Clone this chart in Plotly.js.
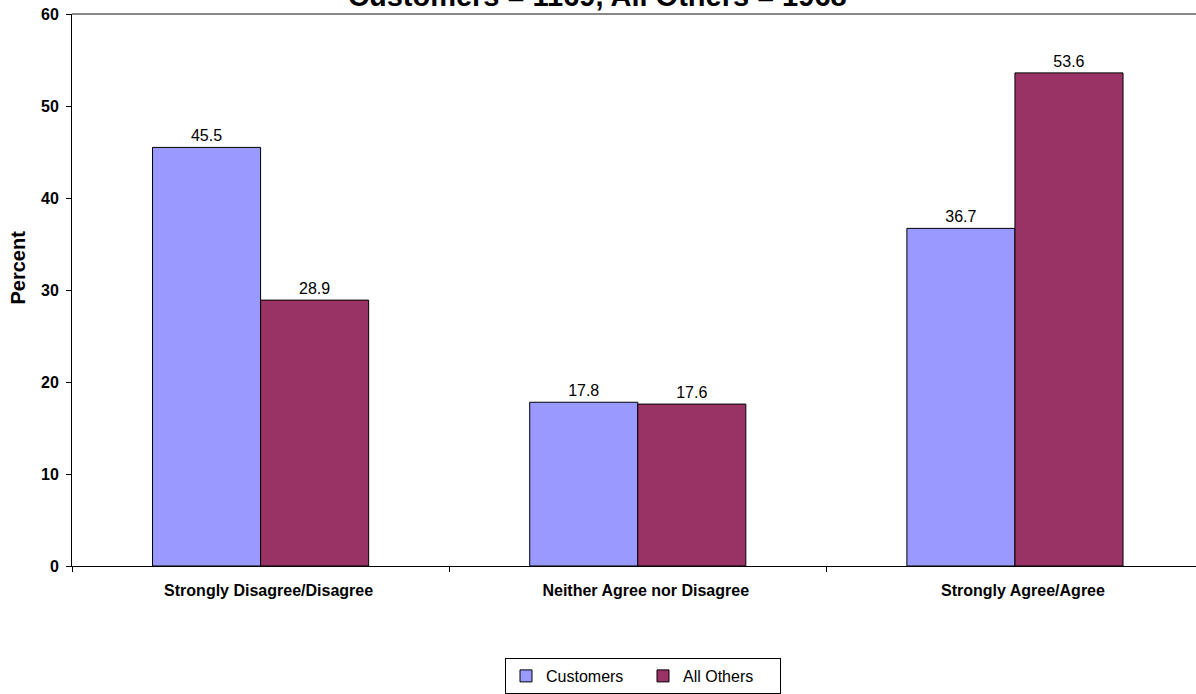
<!DOCTYPE html>
<html>
<head>
<meta charset="utf-8">
<script src="https://cdn.plot.ly/plotly-3.0.1.min.js"></script>
<style>html,body{margin:0;padding:0;background:#fff;}#chart{width:1196px;height:694px;}</style>
</head>
<body>
<div id="chart"></div>
<script>
const categories = ["Strongly Disagree/Disagree", "Neither Agree nor Disagree", "Strongly Agree/Agree"];
const customers = [45.5, 17.8, 36.7];
const allOthers = [28.9, 17.6, 53.6];
const seriesNames = ["Customers", "All Others"];
const titleText = "Customers = 1169, All Others = 1968";
const yTicks = [0, 10, 20, 30, 40, 50, 60];

const font = "Arial, 'Liberation Sans', sans-serif";
const traces = [
  {type:'bar', name:seriesNames[0], x:categories, y:customers,
   marker:{color:'#9999FF', line:{color:'#000', width:1}},
   text:customers.map(v=>v.toFixed(1)), textposition:'outside', cliponaxis:false,
   textfont:{family:font, size:16, color:'#000'}},
  {type:'bar', name:seriesNames[1], x:categories, y:allOthers,
   marker:{color:'#993366', line:{color:'#000', width:1}},
   text:allOthers.map(v=>v.toFixed(1)), textposition:'outside', cliponaxis:false,
   textfont:{family:font, size:16, color:'#000'}}
];
const layout = {
  width:1196, height:694,
  margin:{l:72, r:0, t:14, b:127},
  paper_bgcolor:'#fff', plot_bgcolor:'#fff',
  font:{family:font, color:'#000'},
  barmode:'group', bargap:0.427, bargroupgap:0,
  xaxis:{type:'category', range:[-0.5, 2.48], tickson:'boundaries', ticks:'outside', ticklen:5,
         tickcolor:'#000', showline:true, linecolor:'#000', linewidth:1, showgrid:false,
         tickfont:{family:font, size:16, color:'#000', weight:'bold'}, ticklabelstandoff:10,
         ticklabelshift:8, fixedrange:true},
  yaxis:{range:[0,60], tickvals:yTicks, ticks:'outside', ticklen:5, tickcolor:'#000',
         showline:true, linecolor:'#000', linewidth:1, showgrid:false, zeroline:false,
         tickfont:{family:font, size:16, color:'#000', weight:'bold'}, ticklabelstandoff:4},
  showlegend:true,
  legend:{orientation:'h', x:(505-72)/1124, xanchor:'left', y:(567-659)/553, yanchor:'top',
          bordercolor:'#000', borderwidth:1, font:{family:font, size:16, color:'#000'},
          itemwidth:30, entrywidth:92, entrywidthmode:'pixels', traceorder:'normal'},
  shapes:[{type:'line', xref:'paper', yref:'paper', x0:0, x1:1, y0:1, y1:1,
           line:{color:'#888', width:2}}],
  annotations:[
    {text:'<b>'+titleText+'</b>', xref:'paper', yref:'paper', x:(597-72)/1124, y:(567+4)/553,
     xanchor:'center', yanchor:'middle', showarrow:false,
     font:{family:font, size:29, color:'#000'}},
    {text:'<b>Percent</b>', xref:'paper', yref:'paper', x:(18-72)/1124, y:(567-268)/553,
     xanchor:'center', yanchor:'middle', textangle:-90, showarrow:false,
     font:{family:font, size:20, color:'#000'}}]
};
Plotly.newPlot('chart', traces, layout, {displayModeBar:false, staticPlot:true});
</script>
</body>
</html>
